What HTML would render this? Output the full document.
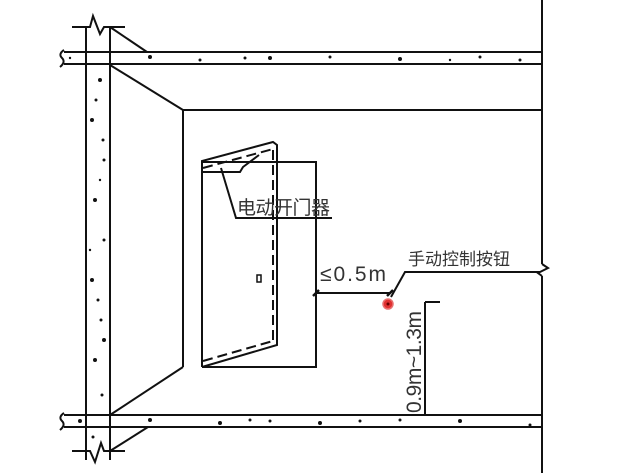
<!DOCTYPE html>
<html><head><style>body{margin:0;background:#fff}svg{display:block}text{font-family:"Liberation Sans","Noto Sans CJK SC",sans-serif;fill:#333}</style></head><body>
<svg width="621" height="473" viewBox="0 0 621 473" stroke="#111" stroke-width="2" fill="none">
<line x1="86" y1="27" x2="86" y2="460"/><line x1="110" y1="27" x2="110" y2="460"/>
<polyline points="72,27 90,27 93,16 100,34 104,27 125,27"/>
<polyline points="72,451 90,451 95,462 101,443 104,451 125,451"/>
<line x1="64" y1="52" x2="542" y2="52"/><line x1="64" y1="64" x2="542" y2="64"/>
<path d="M64,50 q-6,4 -2,8 q4,4 -2,9"/>
<line x1="64" y1="415" x2="542" y2="415"/><line x1="64" y1="427" x2="542" y2="427"/>
<path d="M64,413 q-6,4 -2,8 q4,4 -2,9"/>
<line x1="542" y1="0" x2="542" y2="264"/><line x1="542" y1="276" x2="542" y2="473"/>
<polyline points="542,264 548,268 538,273 542,276"/>
<g fill="#111" stroke="none">
<circle cx="100" cy="80" r="2"/><circle cx="92" cy="120" r="2"/><circle cx="103" cy="140" r="1.5"/><circle cx="104" cy="160" r="1.5"/><circle cx="95" cy="200" r="2"/><circle cx="104" cy="240" r="1.5"/><circle cx="92" cy="280" r="2"/><circle cx="98" cy="300" r="1.5"/><circle cx="101" cy="320" r="1.5"/><circle cx="95" cy="360" r="2"/><circle cx="102" cy="395" r="1.5"/><circle cx="93" cy="437" r="1.5"/><circle cx="96" cy="100" r="1.5"/><circle cx="100" cy="180" r="1.2"/><circle cx="90" cy="250" r="1.2"/><circle cx="104" cy="340" r="2"/>
<circle cx="150" cy="57" r="2"/><circle cx="200" cy="60" r="1.5"/><circle cx="245" cy="58" r="1.5"/><circle cx="270" cy="58" r="2"/><circle cx="330" cy="57" r="1.5"/><circle cx="400" cy="59" r="2"/><circle cx="450" cy="60" r="1.2"/><circle cx="480" cy="57" r="1.5"/><circle cx="520" cy="60" r="1.5"/><circle cx="70" cy="58" r="1.2"/>
<circle cx="150" cy="420" r="2"/><circle cx="220" cy="423" r="2"/><circle cx="250" cy="420" r="1.5"/><circle cx="270" cy="421" r="1.5"/><circle cx="320" cy="423" r="2"/><circle cx="360" cy="421" r="1.5"/><circle cx="400" cy="420" r="1.5"/><circle cx="460" cy="421" r="2"/><circle cx="530" cy="425" r="1.5"/><circle cx="80" cy="421" r="2"/>
</g>
<line x1="110" y1="27" x2="147" y2="52"/>
<line x1="110" y1="65" x2="183" y2="110"/>
<line x1="183" y1="110" x2="542" y2="110"/>
<line x1="183" y1="110" x2="183" y2="367"/>
<line x1="183" y1="367" x2="110" y2="415"/>
<line x1="110" y1="451" x2="148" y2="427"/>
<polyline points="203,162 316,162 316,367 202,367"/>
<polyline points="202,367 202,161 273,142 277,145 277,345 202,367"/>
<g stroke-dasharray="10,5"><line x1="203" y1="168" x2="273" y2="149"/><line x1="273" y1="150" x2="273" y2="345"/><line x1="203" y1="361" x2="273" y2="341"/></g>
<polyline points="203,172 240,172 243,167 259,155"/>
<polyline points="221,168 236,218 332,218"/>
<rect x="257" y="275" width="4" height="7" stroke-width="1.5"/>
<line x1="316" y1="293" x2="390" y2="293"/>
<line x1="313" y1="296" x2="319" y2="290" stroke-width="2.5"/><line x1="387" y1="296" x2="393" y2="290" stroke-width="2.5"/>
<polyline points="391,297 405,272 540,272"/>
<circle cx="388" cy="304" r="5" fill="#e03030" stroke="#e87070" stroke-width="1.5"/>
<circle cx="388" cy="304" r="1.5" fill="#600" stroke="none"/>
<line x1="425" y1="302" x2="425" y2="415"/><line x1="425" y1="302" x2="440" y2="302"/>
<text x="237" y="214" font-size="19" stroke="none" fill="#333" textLength="93">电动开门器</text>
<text x="320" y="281" font-size="21" stroke="none" fill="#333" textLength="66">≤0.5m</text>
<text x="408" y="265" font-size="17" stroke="none" fill="#333" textLength="102">手动控制按钮</text>
<text transform="translate(421,413) rotate(-90)" font-size="21" stroke="none" fill="#333" textLength="102">0.9m~1.3m</text>
</svg>
</body></html>
